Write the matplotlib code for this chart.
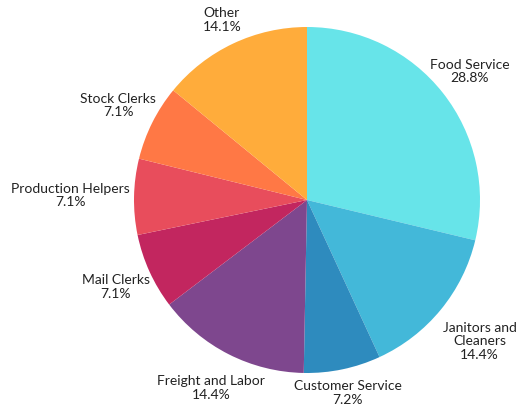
import numpy as np
import matplotlib
matplotlib.use("Agg")
import matplotlib.pyplot as plt

categories = ["Food Service", "Janitors and\nCleaners", "Customer Service", "Freight and Labor",
              "Mail Clerks", "Production Helpers", "Stock Clerks", "Other"]
shares = [28.8, 14.4, 7.2, 14.4, 7.1, 7.1, 7.1, 14.1]
colors = ["#67E4E9", "#43B8D9", "#2E8BBE", "#7E478E", "#C2265F", "#E84D5C", "#FF7845", "#FFAC3B"]
# how far out each label sits (in radii), roughly follows text size
label_dist = [1.20, 1.29, 1.14, 1.22, 1.215, 1.37, 1.22, 1.15]

plt.rcParams['font.family'] = ['Lato', 'DejaVu Sans']

W, H = 517, 407
fig = plt.figure(figsize=(W / 100, H / 100), dpi=100)
cx, cy, r = 307, 207, 173
ax = fig.add_axes([(cx - r) / W, (cy - r) / H, 2 * r / W, 2 * r / H])

wedges, _ = ax.pie(shares, colors=colors, startangle=90, counterclock=False, radius=1,
                   wedgeprops=dict(linewidth=0))
ax.set_xlim(-1, 1)
ax.set_ylim(-1, 1)
ax.axis("off")

for w, name, val, d in zip(wedges, categories, shares, label_dist):
    mid = np.deg2rad((w.theta1 + w.theta2) / 2)
    ax.text(d * np.cos(mid), d * np.sin(mid), f"{name}\n{val:.1f}%", ha="center", va="center",
            fontsize=10, color="#222222", linespacing=1.15, clip_on=False)

fig.savefig("out.png", dpi=100)
